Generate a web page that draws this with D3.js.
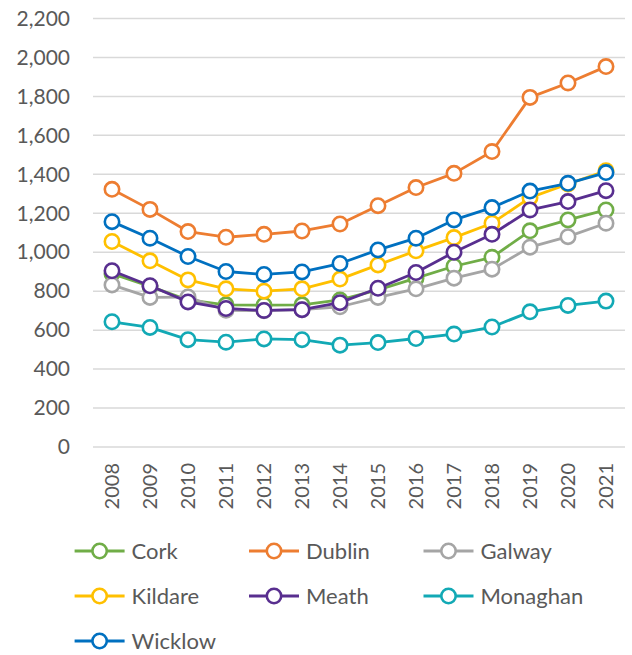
<!DOCTYPE html>
<html>
<head>
<meta charset="utf-8">
<script src="https://cdn.jsdelivr.net/npm/d3@7"></script>
<style>
  html, body { margin: 0; padding: 0; background: #fff; }
  svg text { font-family: Lato, "Noto Sans", sans-serif; fill: #595959; }
</style>
</head>
<body>
<svg id="chart" width="632" height="655"></svg>
<script>
const years = ["2008","2009","2010","2011","2012","2013","2014","2015","2016","2017","2018","2019","2020","2021"];
const yTicks = [0,200,400,600,800,1000,1200,1400,1600,1800,2000,2200];
const seriesNames = ["Cork","Dublin","Galway","Kildare","Meath","Monaghan","Wicklow"];
const seriesColors = ["#70AD47","#ED7D31","#A5A5A5","#FFC000","#582E8F","#12A9B5","#0070C0"];
const cork     = [890, 825, 755, 730, 728, 730, 755, 807, 867, 928, 974, 1110, 1166, 1217];
const dublin   = [1323, 1220, 1106, 1077, 1092, 1109, 1145, 1239, 1332, 1405, 1517, 1795, 1869, 1953];
const galway   = [832, 768, 770, 702, 700, 705, 720, 768, 812, 867, 913, 1026, 1080, 1149];
const kildare  = [1055, 956, 858, 812, 800, 812, 862, 935, 1007, 1075, 1149, 1280, 1350, 1418];
const meath    = [905, 828, 745, 711, 701, 705, 741, 815, 896, 1000, 1092, 1217, 1260, 1316];
const monaghan = [643, 614, 551, 538, 555, 551, 523, 536, 557, 580, 616, 694, 727, 749];
const wicklow  = [1157, 1072, 978, 901, 886, 899, 942, 1012, 1072, 1166, 1229, 1314, 1354, 1409];
const seriesValues = [cork, dublin, galway, kildare, meath, monaghan, wicklow];

const svg = d3.select("#chart");
const plotLeft = 93, plotRight = 625, plotTop = 18.5, plotBottom = 447;

const x = d3.scaleBand().domain(years).range([plotLeft, plotRight]).padding(0);
const y = d3.scaleLinear().domain([0, 2200]).range([plotBottom, plotTop]);

// gridlines
svg.append("g").selectAll("line").data(yTicks).join("line")
  .attr("x1", plotLeft).attr("x2", plotRight)
  .attr("y1", d => y(d)).attr("y2", d => y(d))
  .attr("stroke", "#D9D9D9").attr("stroke-width", 1.5);

// y axis
const yAxis = svg.append("g").attr("transform", `translate(${plotLeft},0)`)
  .call(d3.axisLeft(y).tickValues(yTicks).tickFormat(d3.format(",")).tickSize(0).tickPadding(23));
yAxis.select(".domain").remove();
yAxis.selectAll("text").style("font-size", "21px").attr("fill", "#595959");

// x axis
const xAxis = svg.append("g").attr("transform", `translate(0,${plotBottom})`)
  .call(d3.axisBottom(x).tickSize(0));
xAxis.select(".domain").remove();
xAxis.selectAll("text")
  .attr("transform", "rotate(-90)")
  .attr("x", -16).attr("y", 0).attr("dy", "0.35em")
  .style("text-anchor", "end").style("font-size", "20px").attr("fill", "#595959");

const line = d3.line().x((d, i) => x(years[i]) + x.bandwidth() / 2).y(d => y(d));

seriesValues.forEach((vals, k) => {
  const g = svg.append("g");
  g.append("path").datum(vals).attr("d", line)
    .attr("fill", "none").attr("stroke", seriesColors[k]).attr("stroke-width", 2.8)
    .attr("stroke-linejoin", "round");
  g.selectAll("circle").data(vals).join("circle")
    .attr("cx", (d, i) => x(years[i]) + x.bandwidth() / 2)
    .attr("cy", d => y(d))
    .attr("r", 7.2)
    .attr("fill", "#fff").attr("stroke", seriesColors[k]).attr("stroke-width", 2.6);
});

// legend
const colX = [74.6, 249, 423.5];
const rowY = [551, 596, 641];
seriesNames.forEach((name, k) => {
  const lx = colX[k % 3], ly = rowY[Math.floor(k / 3)];
  const g = svg.append("g");
  g.append("line").attr("x1", lx).attr("x2", lx + 50).attr("y1", ly).attr("y2", ly)
    .attr("stroke", seriesColors[k]).attr("stroke-width", 2.8);
  g.append("circle").attr("cx", lx + 25).attr("cy", ly).attr("r", 7.2)
    .attr("fill", "#fff").attr("stroke", seriesColors[k]).attr("stroke-width", 2.6);
  g.append("text").attr("x", lx + 57).attr("y", ly).attr("dy", "0.35em")
    .style("font-size", "22px").text(name);
});
</script>
</body>
</html>
